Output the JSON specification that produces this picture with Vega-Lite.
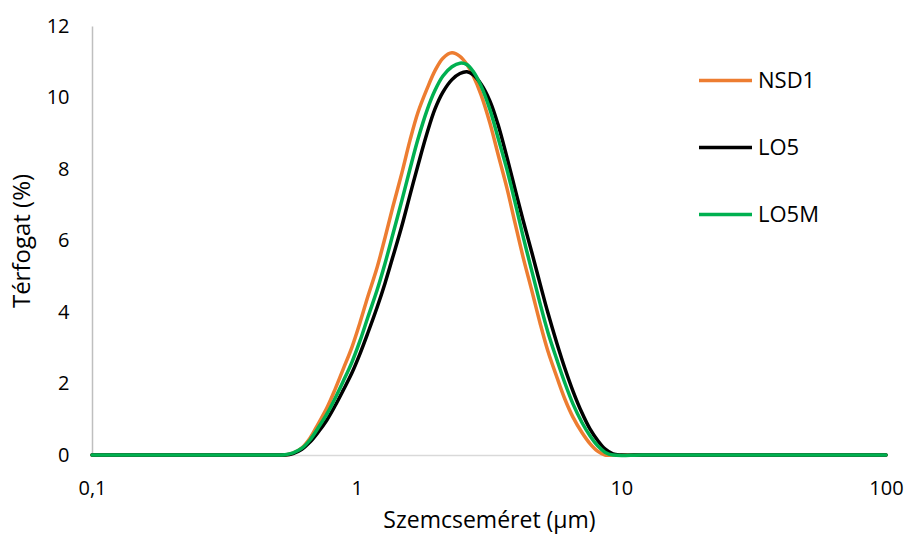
{
  "$schema": "https://vega.github.io/schema/vega-lite/v6.json",
  "autosize": "none",
  "width": 794,
  "height": 429,
  "padding": {"left": 92, "top": 26, "right": 19, "bottom": 84},
  "background": "white",
  "config": {
    "view": {"stroke": null},
    "font": "Open Sans"
  },
  "data": {
    "values": [
      {"d": 0.1, "v": 0, "s": "NSD1"},
      {"d": 0.2, "v": 0, "s": "NSD1"},
      {"d": 0.3, "v": 0, "s": "NSD1"},
      {"d": 0.4, "v": 0, "s": "NSD1"},
      {"d": 0.4955, "v": 0, "s": "NSD1"},
      {"d": 0.536, "v": 0, "s": "NSD1"},
      {"d": 0.575, "v": 0.05, "s": "NSD1"},
      {"d": 0.621, "v": 0.2, "s": "NSD1"},
      {"d": 0.666, "v": 0.47, "s": "NSD1"},
      {"d": 0.714, "v": 0.86, "s": "NSD1"},
      {"d": 0.772, "v": 1.32, "s": "NSD1"},
      {"d": 0.828, "v": 1.83, "s": "NSD1"},
      {"d": 0.888, "v": 2.39, "s": "NSD1"},
      {"d": 0.96, "v": 3.02, "s": "NSD1"},
      {"d": 1.029, "v": 3.7, "s": "NSD1"},
      {"d": 1.103, "v": 4.44, "s": "NSD1"},
      {"d": 1.193, "v": 5.23, "s": "NSD1"},
      {"d": 1.279, "v": 6.07, "s": "NSD1"},
      {"d": 1.371, "v": 6.95, "s": "NSD1"},
      {"d": 1.483, "v": 7.9, "s": "NSD1"},
      {"d": 1.59, "v": 8.8, "s": "NSD1"},
      {"d": 1.704, "v": 9.58, "s": "NSD1"},
      {"d": 1.844, "v": 10.24, "s": "NSD1"},
      {"d": 1.977, "v": 10.75, "s": "NSD1"},
      {"d": 2.118, "v": 11.1, "s": "NSD1"},
      {"d": 2.291, "v": 11.25, "s": "NSD1"},
      {"d": 2.456, "v": 11.15, "s": "NSD1"},
      {"d": 2.61, "v": 10.92, "s": "NSD1"},
      {"d": 2.75, "v": 10.62, "s": "NSD1"},
      {"d": 2.949, "v": 10.08, "s": "NSD1"},
      {"d": 3.189, "v": 9.28, "s": "NSD1"},
      {"d": 3.419, "v": 8.42, "s": "NSD1"},
      {"d": 3.698, "v": 7.46, "s": "NSD1"},
      {"d": 3.963, "v": 6.5, "s": "NSD1"},
      {"d": 4.249, "v": 5.55, "s": "NSD1"},
      {"d": 4.596, "v": 4.58, "s": "NSD1"},
      {"d": 4.927, "v": 3.7, "s": "NSD1"},
      {"d": 5.282, "v": 2.9, "s": "NSD1"},
      {"d": 5.711, "v": 2.17, "s": "NSD1"},
      {"d": 6.122, "v": 1.56, "s": "NSD1"},
      {"d": 6.565, "v": 1.06, "s": "NSD1"},
      {"d": 7.099, "v": 0.63, "s": "NSD1"},
      {"d": 7.611, "v": 0.32, "s": "NSD1"},
      {"d": 8.157, "v": 0.1, "s": "NSD1"},
      {"d": 8.67, "v": 0, "s": "NSD1"},
      {"d": 9.296, "v": 0, "s": "NSD1"},
      {"d": 12, "v": 0, "s": "NSD1"},
      {"d": 20, "v": 0, "s": "NSD1"},
      {"d": 40, "v": 0, "s": "NSD1"},
      {"d": 70, "v": 0, "s": "NSD1"},
      {"d": 100, "v": 0, "s": "NSD1"},

      {"d": 0.1, "v": 0, "s": "LO5"},
      {"d": 0.2, "v": 0, "s": "LO5"},
      {"d": 0.3, "v": 0, "s": "LO5"},
      {"d": 0.4, "v": 0, "s": "LO5"},
      {"d": 0.4955, "v": 0, "s": "LO5"},
      {"d": 0.536, "v": 0, "s": "LO5"},
      {"d": 0.575, "v": 0.04, "s": "LO5"},
      {"d": 0.621, "v": 0.16, "s": "LO5"},
      {"d": 0.666, "v": 0.36, "s": "LO5"},
      {"d": 0.714, "v": 0.63, "s": "LO5"},
      {"d": 0.772, "v": 0.98, "s": "LO5"},
      {"d": 0.828, "v": 1.37, "s": "LO5"},
      {"d": 0.888, "v": 1.8, "s": "LO5"},
      {"d": 0.96, "v": 2.3, "s": "LO5"},
      {"d": 1.029, "v": 2.83, "s": "LO5"},
      {"d": 1.103, "v": 3.42, "s": "LO5"},
      {"d": 1.193, "v": 4.12, "s": "LO5"},
      {"d": 1.279, "v": 4.8, "s": "LO5"},
      {"d": 1.371, "v": 5.55, "s": "LO5"},
      {"d": 1.483, "v": 6.42, "s": "LO5"},
      {"d": 1.59, "v": 7.27, "s": "LO5"},
      {"d": 1.704, "v": 8.1, "s": "LO5"},
      {"d": 1.844, "v": 9.0, "s": "LO5"},
      {"d": 1.977, "v": 9.68, "s": "LO5"},
      {"d": 2.118, "v": 10.15, "s": "LO5"},
      {"d": 2.291, "v": 10.5, "s": "LO5"},
      {"d": 2.456, "v": 10.67, "s": "LO5"},
      {"d": 2.61, "v": 10.72, "s": "LO5"},
      {"d": 2.75, "v": 10.64, "s": "LO5"},
      {"d": 2.949, "v": 10.38, "s": "LO5"},
      {"d": 3.189, "v": 9.9, "s": "LO5"},
      {"d": 3.419, "v": 9.25, "s": "LO5"},
      {"d": 3.698, "v": 8.32, "s": "LO5"},
      {"d": 3.963, "v": 7.45, "s": "LO5"},
      {"d": 4.249, "v": 6.58, "s": "LO5"},
      {"d": 4.596, "v": 5.65, "s": "LO5"},
      {"d": 4.927, "v": 4.8, "s": "LO5"},
      {"d": 5.282, "v": 3.97, "s": "LO5"},
      {"d": 5.711, "v": 3.12, "s": "LO5"},
      {"d": 6.122, "v": 2.42, "s": "LO5"},
      {"d": 6.565, "v": 1.79, "s": "LO5"},
      {"d": 7.099, "v": 1.18, "s": "LO5"},
      {"d": 7.611, "v": 0.73, "s": "LO5"},
      {"d": 8.157, "v": 0.4, "s": "LO5"},
      {"d": 8.67, "v": 0.17, "s": "LO5"},
      {"d": 9.296, "v": 0.03, "s": "LO5"},
      {"d": 10.0, "v": 0, "s": "LO5"},
      {"d": 12, "v": 0, "s": "LO5"},
      {"d": 20, "v": 0, "s": "LO5"},
      {"d": 40, "v": 0, "s": "LO5"},
      {"d": 70, "v": 0, "s": "LO5"},
      {"d": 100, "v": 0, "s": "LO5"},

      {"d": 0.1, "v": 0, "s": "LO5M"},
      {"d": 0.2, "v": 0, "s": "LO5M"},
      {"d": 0.3, "v": 0, "s": "LO5M"},
      {"d": 0.4, "v": 0, "s": "LO5M"},
      {"d": 0.4955, "v": 0, "s": "LO5M"},
      {"d": 0.536, "v": 0.01, "s": "LO5M"},
      {"d": 0.575, "v": 0.06, "s": "LO5M"},
      {"d": 0.621, "v": 0.19, "s": "LO5M"},
      {"d": 0.666, "v": 0.42, "s": "LO5M"},
      {"d": 0.714, "v": 0.75, "s": "LO5M"},
      {"d": 0.772, "v": 1.15, "s": "LO5M"},
      {"d": 0.828, "v": 1.58, "s": "LO5M"},
      {"d": 0.888, "v": 2.05, "s": "LO5M"},
      {"d": 0.96, "v": 2.6, "s": "LO5M"},
      {"d": 1.029, "v": 3.19, "s": "LO5M"},
      {"d": 1.103, "v": 3.86, "s": "LO5M"},
      {"d": 1.193, "v": 4.6, "s": "LO5M"},
      {"d": 1.279, "v": 5.35, "s": "LO5M"},
      {"d": 1.371, "v": 6.18, "s": "LO5M"},
      {"d": 1.483, "v": 7.13, "s": "LO5M"},
      {"d": 1.59, "v": 8.0, "s": "LO5M"},
      {"d": 1.704, "v": 8.83, "s": "LO5M"},
      {"d": 1.844, "v": 9.64, "s": "LO5M"},
      {"d": 1.977, "v": 10.2, "s": "LO5M"},
      {"d": 2.118, "v": 10.6, "s": "LO5M"},
      {"d": 2.291, "v": 10.86, "s": "LO5M"},
      {"d": 2.456, "v": 10.96, "s": "LO5M"},
      {"d": 2.61, "v": 10.92, "s": "LO5M"},
      {"d": 2.75, "v": 10.74, "s": "LO5M"},
      {"d": 2.949, "v": 10.33, "s": "LO5M"},
      {"d": 3.189, "v": 9.66, "s": "LO5M"},
      {"d": 3.419, "v": 8.88, "s": "LO5M"},
      {"d": 3.698, "v": 7.98, "s": "LO5M"},
      {"d": 3.963, "v": 7.08, "s": "LO5M"},
      {"d": 4.249, "v": 6.13, "s": "LO5M"},
      {"d": 4.596, "v": 5.13, "s": "LO5M"},
      {"d": 4.927, "v": 4.25, "s": "LO5M"},
      {"d": 5.282, "v": 3.43, "s": "LO5M"},
      {"d": 5.711, "v": 2.66, "s": "LO5M"},
      {"d": 6.122, "v": 2.01, "s": "LO5M"},
      {"d": 6.565, "v": 1.43, "s": "LO5M"},
      {"d": 7.099, "v": 0.91, "s": "LO5M"},
      {"d": 7.611, "v": 0.54, "s": "LO5M"},
      {"d": 8.157, "v": 0.25, "s": "LO5M"},
      {"d": 8.67, "v": 0.08, "s": "LO5M"},
      {"d": 9.296, "v": 0, "s": "LO5M"},
      {"d": 12, "v": 0, "s": "LO5M"},
      {"d": 20, "v": 0, "s": "LO5M"},
      {"d": 40, "v": 0, "s": "LO5M"},
      {"d": 70, "v": 0, "s": "LO5M"},
      {"d": 100, "v": 0, "s": "LO5M"}
    ]
  },
  "mark": {"type": "line", "strokeWidth": 3.5, "interpolate": "catmull-rom", "strokeCap": "round"},
  "encoding": {
    "x": {
      "field": "d",
      "type": "quantitative",
      "scale": {"type": "log", "domain": [0.1, 100], "nice": false},
      "axis": {
        "title": "Szemcseméret (µm)",
        "values": [0.1, 1, 10, 100],
        "format": "~g",
        "labelExpr": "replace(datum.label, '.', ',')",
        "grid": false,
        "ticks": false,
        "domainColor": "#D9D9D9",
        "domainWidth": 1.5,
        "labelFontSize": 20,
        "labelColor": "#000000",
        "labelPadding": 23,
        "labelFlush": false,
        "titleFontSize": 23,
        "titleFontWeight": "normal",
        "titleColor": "#000000",
        "titlePadding": 11
      }
    },
    "y": {
      "field": "v",
      "type": "quantitative",
      "scale": {"domain": [0, 12], "nice": false},
      "axis": {
        "title": "Térfogat (%)",
        "values": [0, 2, 4, 6, 8, 10, 12],
        "grid": false,
        "ticks": false,
        "domainColor": "#BFBFBF",
        "domainWidth": 1.5,
        "labelFontSize": 20,
        "labelColor": "#000000",
        "labelPadding": 23,
        "titleFontSize": 24,
        "titleFontWeight": "normal",
        "titleColor": "#000000",
        "titlePadding": 12
      }
    },
    "color": {
      "field": "s",
      "type": "nominal",
      "scale": {"domain": ["NSD1", "LO5", "LO5M"], "range": ["#ED7D31", "#000000", "#00B050"]},
      "legend": {
        "title": null,
        "orient": "none",
        "legendX": 605,
        "legendY": 26,
        "symbolType": "stroke",
        "symbolSize": 2809,
        "symbolStrokeWidth": 3.5,
        "labelFontSize": 22,
        "labelColor": "#000000",
        "labelOffset": 4,
        "rowPadding": 27
      }
    }
  }
}
